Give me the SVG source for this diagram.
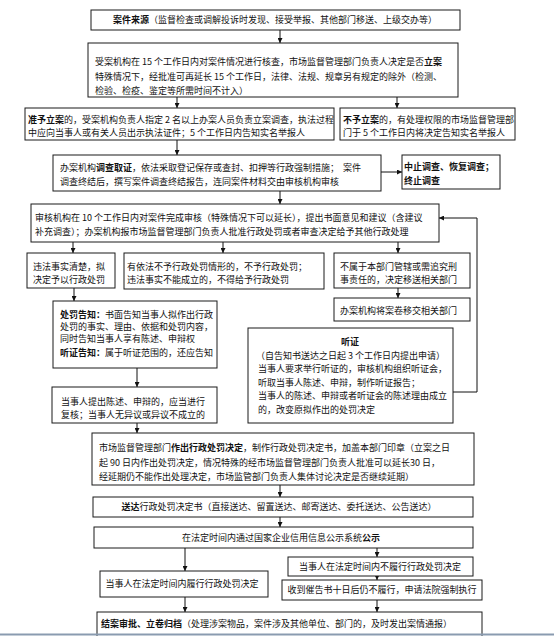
<svg xmlns="http://www.w3.org/2000/svg" width="554" height="636" viewBox="0 0 554 636">
<style>
.b{fill:#fff;stroke:#1a1a1a;stroke-width:1}
.t{font-family:"Noto Sans CJK SC","Noto Sans",sans-serif;font-size:9px;fill:#111}
.bd{font-weight:bold}
.c{text-anchor:middle}
.ln{stroke:#111;stroke-width:1;fill:none}
</style>
<defs>
<marker id="ah" markerWidth="5" markerHeight="5" refX="5" refY="2.5" orient="auto" markerUnits="userSpaceOnUse">
<path d="M0,0 L5,2.5 L0,5 z" fill="#111"/>
</marker>
</defs>
<rect x="0" y="0" width="554" height="636" fill="#fff"/>

<g id="connectors">
<line class="ln" x1="280" y1="30" x2="280" y2="43" marker-end="url(#ah)"/>
<line class="ln" x1="177" y1="97" x2="177" y2="108" marker-end="url(#ah)"/>
<line class="ln" x1="397" y1="97" x2="397" y2="108" marker-end="url(#ah)"/>
<line class="ln" x1="177" y1="140" x2="177" y2="155" marker-end="url(#ah)"/>
<line class="ln" x1="381" y1="172" x2="402" y2="172" marker-end="url(#ah)"/>
<line class="ln" x1="280" y1="191" x2="280" y2="204" marker-end="url(#ah)"/>
<line class="ln" x1="73" y1="242" x2="73" y2="253" marker-end="url(#ah)"/>
<line class="ln" x1="223" y1="242" x2="223" y2="253" marker-end="url(#ah)"/>
<line class="ln" x1="398" y1="242" x2="398" y2="253" marker-end="url(#ah)"/>
<line class="ln" x1="74" y1="288" x2="74" y2="301" marker-end="url(#ah)"/>
<line class="ln" x1="398" y1="288" x2="398" y2="298" marker-end="url(#ah)"/>
<path class="ln" d="M453,392 H477 V218 H439" marker-end="url(#ah)"/>
<line class="ln" x1="137" y1="368" x2="137" y2="387" marker-end="url(#ah)"/>
<line class="ln" x1="137" y1="423" x2="137" y2="433" marker-end="url(#ah)"/>
<line class="ln" x1="280" y1="485" x2="280" y2="497" marker-end="url(#ah)"/>
<line class="ln" x1="280" y1="517" x2="280" y2="527" marker-end="url(#ah)"/>
<line class="ln" x1="185" y1="548" x2="185" y2="571" marker-end="url(#ah)"/>
<line class="ln" x1="377" y1="548" x2="377" y2="557" marker-end="url(#ah)"/>
<line class="ln" x1="377" y1="576" x2="377" y2="580" marker-end="url(#ah)"/>
<line class="ln" x1="185" y1="597" x2="185" y2="612" marker-end="url(#ah)"/>
<line class="ln" x1="377" y1="600" x2="377" y2="612" marker-end="url(#ah)"/>
</g>

<g id="n1">
<rect class="b" x="91" y="10" width="369" height="20"/>
<text class="t c" x="275" y="23.4"><tspan class="bd">案件来源</tspan>（监督检查或调解投诉时发现、接受举报、其他部门移送、上级交办等）</text>
</g>
<g id="n2">
<rect class="b" x="88" y="43" width="370" height="54"/>
<text class="t" x="95" y="65">受案机构在 15 个工作日内对案件情况进行核查，市场监督管理部门负责人决定是否<tspan class="bd">立案</tspan></text>
<text class="t" x="95" y="80">特殊情况下，经批准可再延长 15 个工作日，法律、法规、规章另有规定的除外（检测、</text>
<text class="t" x="95" y="94">检验、检疫、鉴定等所需时间不计入）</text>
</g>
<g id="n3">
<rect class="b" x="25" y="108" width="309" height="32"/>
<text class="t" x="28" y="123.4"><tspan class="bd">准予立案</tspan>的，受案机构负责人指定 2 名以上办案人员负责立案调查，执法过程</text>
<text class="t" x="28" y="136.4">中应向当事人或有关人员出示执法证件；5 个工作日内告知实名举报人</text>
</g>
<g id="n4">
<rect class="b" x="340" y="108" width="175" height="32"/>
<text class="t" x="343" y="123.4"><tspan class="bd">不予立案</tspan>的，有处理权限的市场监督管理部</text>
<text class="t" x="343" y="136.4">门于 5 个工作日内将决定告知实名举报人</text>
</g>
<g id="n5">
<rect class="b" x="53" y="155" width="328" height="36"/>
<text class="t" x="60" y="171.4" xml:space="preserve">办案机构<tspan class="bd">调查取证</tspan>，依法采取登记保存或查封、扣押等行政强制措施；  案件</text>
<text class="t" x="60" y="185.4">调查终结后，撰写案件调查终结报告，连同案件材料交由审核机构审核</text>
</g>
<g id="n6">
<rect class="b" x="402" y="155" width="98" height="34"/>
<text class="t bd" x="404" y="170.4">中止调查、恢复调查；</text>
<text class="t bd" x="404" y="184.4">终止调查</text>
</g>
<g id="n7">
<rect class="b" x="31" y="204" width="408" height="38"/>
<text class="t" x="35" y="221.4">审核机构在 10 个工作日内对案件完成审核（特殊情况下可以延长），提出书面意见和建议（含建议</text>
<text class="t" x="35" y="235.4">补充调查）；办案机构报市场监督管理部门负责人批准行政处罚或者审查决定给予其他行政处理</text>
</g>
<g id="n8">
<rect class="b" x="27" y="253" width="88" height="35"/>
<text class="t" x="33" y="270.4">违法事实清楚，拟</text>
<text class="t" x="33" y="283.4">决定予以行政处罚</text>
</g>
<g id="n9">
<rect class="b" x="124" y="253" width="200" height="36"/>
<text class="t" x="127" y="270.4">有依法不予行政处罚情形的，不予行政处罚；</text>
<text class="t" x="127" y="283.4">违法事实不能成立的，不得给予行政处罚</text>
</g>
<g id="n10">
<rect class="b" x="334" y="253" width="136" height="35"/>
<text class="t" x="340" y="270.4">不属于本部门管辖或需追究刑</text>
<text class="t" x="340" y="283.4">事责任的，决定移送相关部门</text>
</g>
<g id="n11">
<rect class="b" x="334" y="298" width="136" height="23"/>
<text class="t" x="340" y="314.4">办案机构将案卷移交相关部门</text>
</g>
<g id="n12">
<rect class="b" x="53" y="301" width="164" height="67"/>
<text class="t" x="60" y="318.4"><tspan class="bd">处罚告知：</tspan>书面告知当事人拟作出行政</text>
<text class="t" x="60" y="330.4">处罚的事实、理由、依据和处罚内容，</text>
<text class="t" x="60" y="342.4">同时告知当事人享有陈述、申辩权</text>
<text class="t" x="60" y="356.4"><tspan class="bd">听证告知：</tspan>属于听证范围的，还应告知</text>
</g>
<g id="n13">
<rect class="b" x="248" y="328" width="205" height="95"/>
<text class="t bd c" x="350" y="345.4">听证</text>
<text class="t" x="256" y="358.9">（自告知书送达之日起 3 个工作日内提出申请）</text>
<text class="t" x="258" y="372.4">当事人要求举行听证的，审核机构组织听证会，</text>
<text class="t" x="258" y="385.9">听取当事人陈述、申辩，制作听证报告；</text>
<text class="t" x="258" y="399.4">当事人的陈述、申辩或者听证会的陈述理由成立</text>
<text class="t" x="258" y="412.9">的，改变原拟作出的处罚决定</text>
</g>
<g id="n14">
<rect class="b" x="52" y="387" width="165" height="36"/>
<text class="t" x="61" y="405.4">当事人提出陈述、申辩的，应当进行</text>
<text class="t" x="61" y="418.4">复核；当事人无异议或异议不成立的</text>
</g>
<g id="n15">
<rect class="b" x="92" y="433" width="382" height="52"/>
<text class="t" x="99" y="451.4">市场监督管理部门<tspan class="bd">作出行政处罚决定</tspan>，制作行政处罚决定书，加盖本部门印章（立案之日</text>
<text class="t" x="99" y="465.9">起 90 日内作出处罚决定，情况特殊的经市场监督管理部门负责人批准可以延长30 日，</text>
<text class="t" x="99" y="480.4">经延期仍不能作出处理决定，市场监管部门负责人集体讨论决定是否继续延期）</text>
</g>
<g id="n16">
<rect class="b" x="93" y="497" width="380" height="20"/>
<text class="t c" x="279" y="510.4"><tspan class="bd">送达</tspan>行政处罚决定书（直接送达、留置送达、邮寄送达、委托送达、公告送达）</text>
</g>
<g id="n17">
<rect class="b" x="94" y="527" width="379" height="21"/>
<text class="t c" x="281" y="541.4">在法定时间内通过国家企业信用信息公示系统<tspan class="bd">公示</tspan></text>
</g>
<g id="n18">
<rect class="b" x="288" y="557" width="185" height="19"/>
<text class="t c" x="380" y="570.4">当事人在法定时间内不履行行政处罚决定</text>
</g>
<g id="n19">
<rect class="b" x="100" y="571" width="168" height="26"/>
<text class="t c" x="182" y="587.4">当事人在法定时间内履行行政处罚决定</text>
</g>
<g id="n20">
<rect class="b" x="282" y="580" width="200" height="20"/>
<text class="t c" x="382" y="593.4">收到催告书十日后仍不履行，申请法院强制执行</text>
</g>
<g id="n21">
<rect class="b" x="97" y="612" width="385" height="30"/>
<text class="t" x="101" y="627.4"><tspan class="bd">结案审批、立卷归档</tspan>（处理涉案物品，案件涉及其他单位、部门的，及时发出案情通报）</text>
</g>
<line x1="0" y1="634.5" x2="554" y2="634.5" stroke="#8a9bb0" stroke-width="2"/>
</svg>
